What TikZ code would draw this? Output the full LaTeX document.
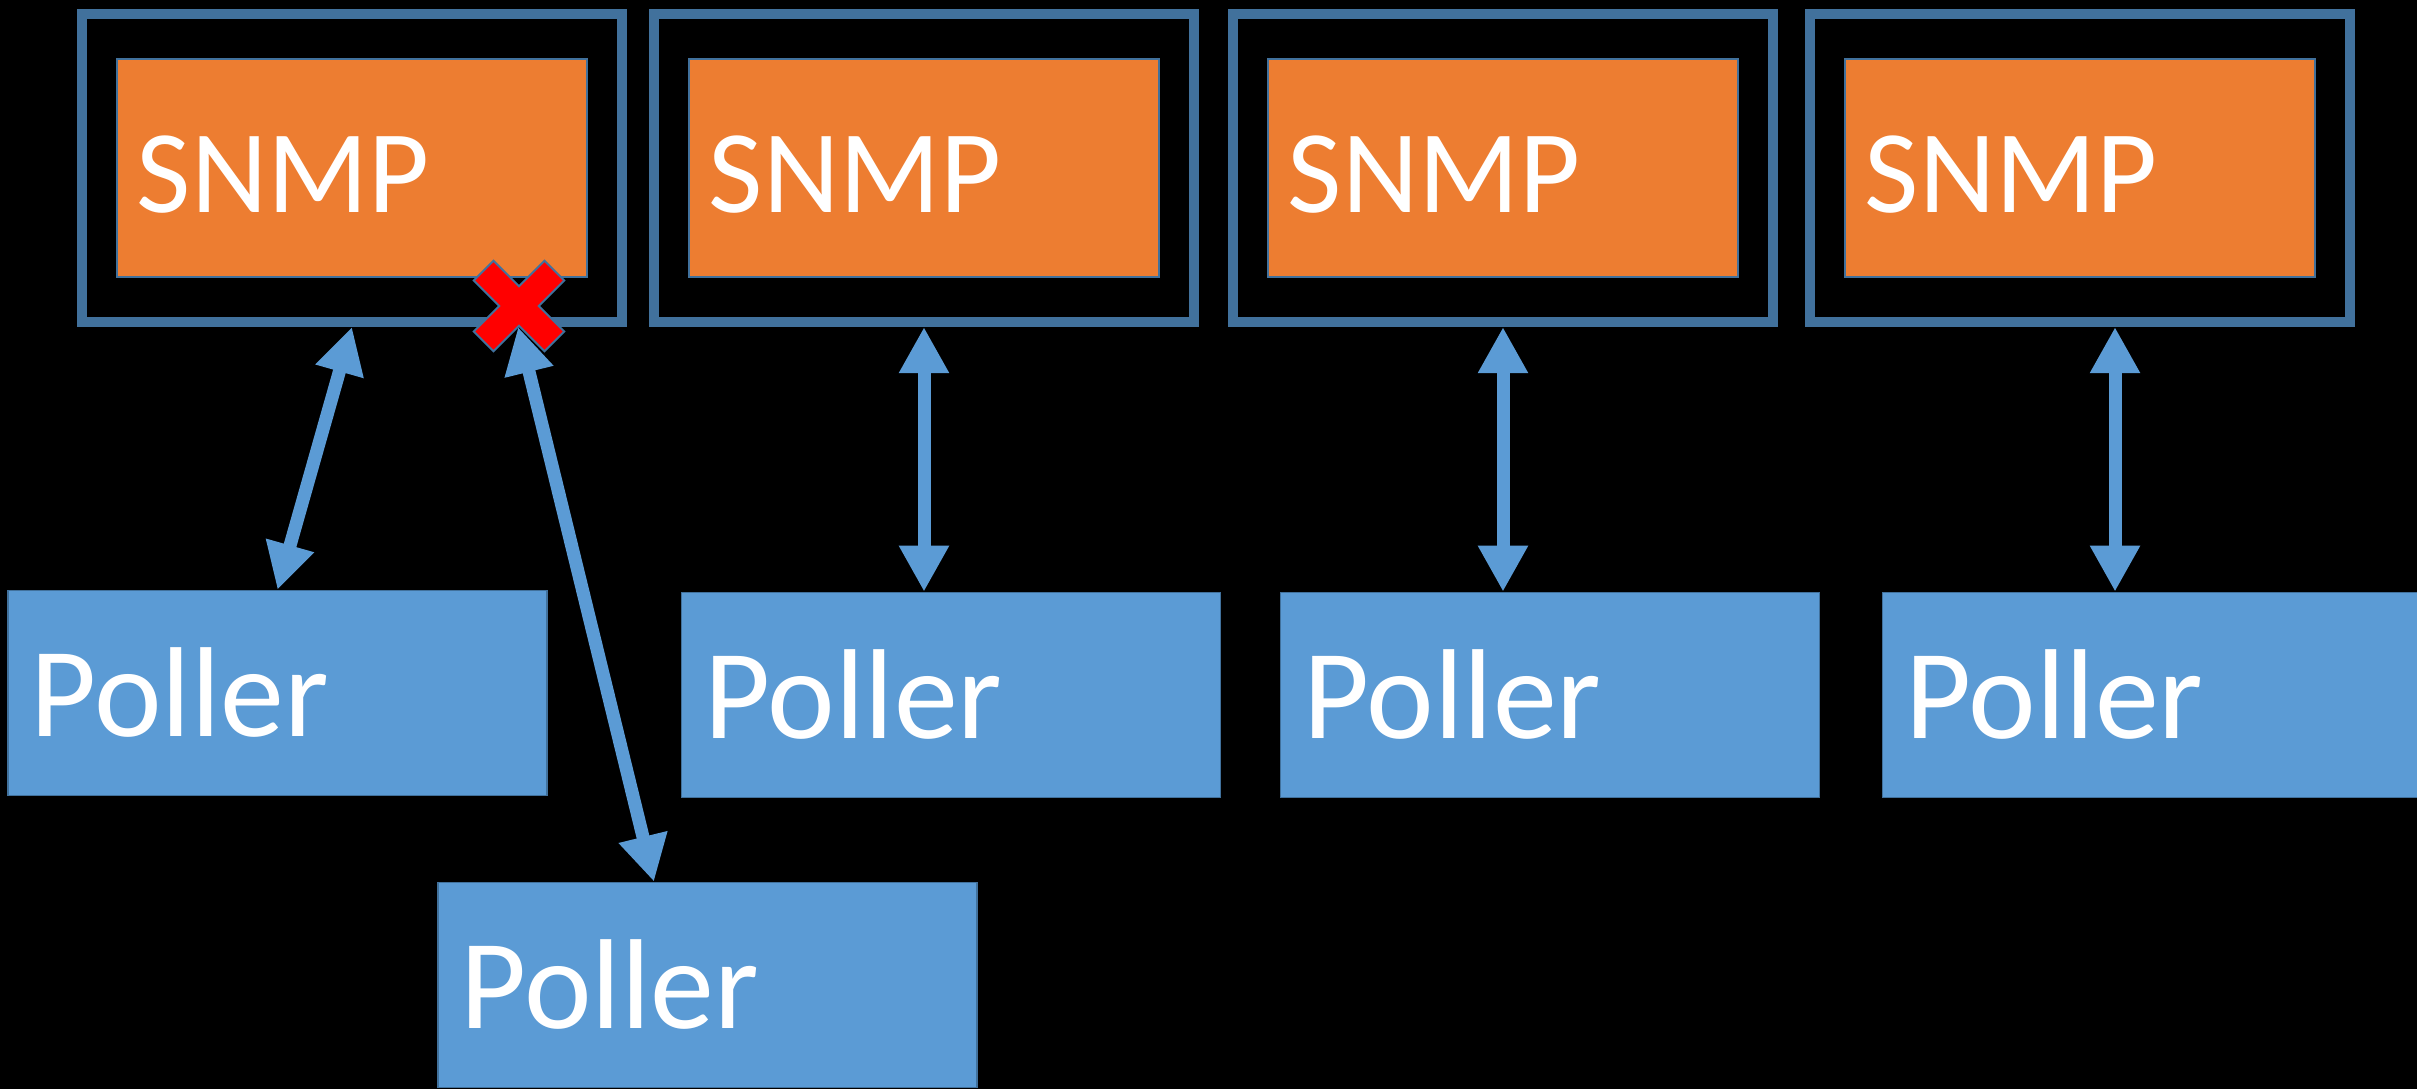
\documentclass[tikz,border=0pt]{standalone}
\usepackage{fontspec}
\setmainfont{Carlito}
\usetikzlibrary{arrows.meta}
\definecolor{snmporange}{HTML}{ED7D31}
\definecolor{pollerblue}{HTML}{5B9BD5}
\definecolor{edgeblue}{HTML}{41719C}
\begin{document}
\begin{tikzpicture}
        [x=0.01cm, y=-0.01cm,
        host/.style={draw=edgeblue, line width=0.1cm, minimum width=5.39cm, minimum height=3.08cm, inner sep=0pt},
        snmp/.style={fill=snmporange, draw=edgeblue, line width=0.02cm, minimum width=4.70cm, minimum height=2.18cm,
            text width=4.30cm, text height=0.88cm, text depth=0cm, inner xsep=0.2cm, inner ysep=0pt, align=left,
            text=white, font=\fontsize{33.6}{38}\selectfont},
        poller/.style={fill=pollerblue, draw=edgeblue, line width=0.015cm, minimum width=5.39cm, minimum height=2.05cm,
            text width=4.93cm, inner xsep=0.23cm, inner ysep=0pt, align=left, text=white, font=\fontsize{36.4}{42}\selectfont},
        link/.style={{Triangle[length=0.46cm,width=0.47cm]}-{Triangle[length=0.46cm,width=0.47cm]}, line width=0.13cm, pollerblue},
        cross/.style={fill=red, draw=edgeblue, line width=0.02cm, line join=miter}]

        \useasboundingbox (0,0) rectangle (2417,1089);
        \fill [black] (0,0) rectangle (2417,1089);
        \clip (0,0) rectangle (2417,1089);

        \node [host] (H1) at (352,168) {};
        \node [host] (H2) at (924,168) {};
        \node [host] (H3) at (1503,168) {};
        \node [host] (H4) at (2080,168) {};

        \node [snmp] (S1) at (H1) {SNMP};
        \node [snmp] (S2) at (H2) {SNMP};
        \node [snmp] (S3) at (H3) {SNMP};
        \node [snmp] (S4) at (H4) {SNMP};

        \node [poller] (P1) at (277.5,693) {Poller};
        \node [poller] (P2) at (951,695) {Poller};
        \node [poller] (P3) at (1550,695) {Poller};
        \node [poller] (P4) at (2152,695) {Poller};
        \node [poller] (P5) at (707.5,985) {Poller};

        \draw [link] (H1.south) -- (P1.north);
        \draw [link] ([xshift=1.66cm]H1.south) -- ([xshift=-0.535cm]P5.north);
        \draw [link] (H2.south) -- (H2.south |- P2.north);
        \draw [link] (H3.south) -- (H3.south |- P3.north);
        \draw [link] ([xshift=0.35cm]H4.south) -- ([xshift=0.35cm]H4.south |- P4.north);

        \begin{scope}[shift={(519,306)}, rotate=45]
            \draw [cross] (50,14) -- (14,14) -- (14,50) -- (-14,50) -- (-14,14) -- (-50,14)
                -- (-50,-14) -- (-14,-14) -- (-14,-50) -- (14,-50) -- (14,-14) -- (50,-14) -- cycle;
        \end{scope}
    \end{tikzpicture}
\end{document}
